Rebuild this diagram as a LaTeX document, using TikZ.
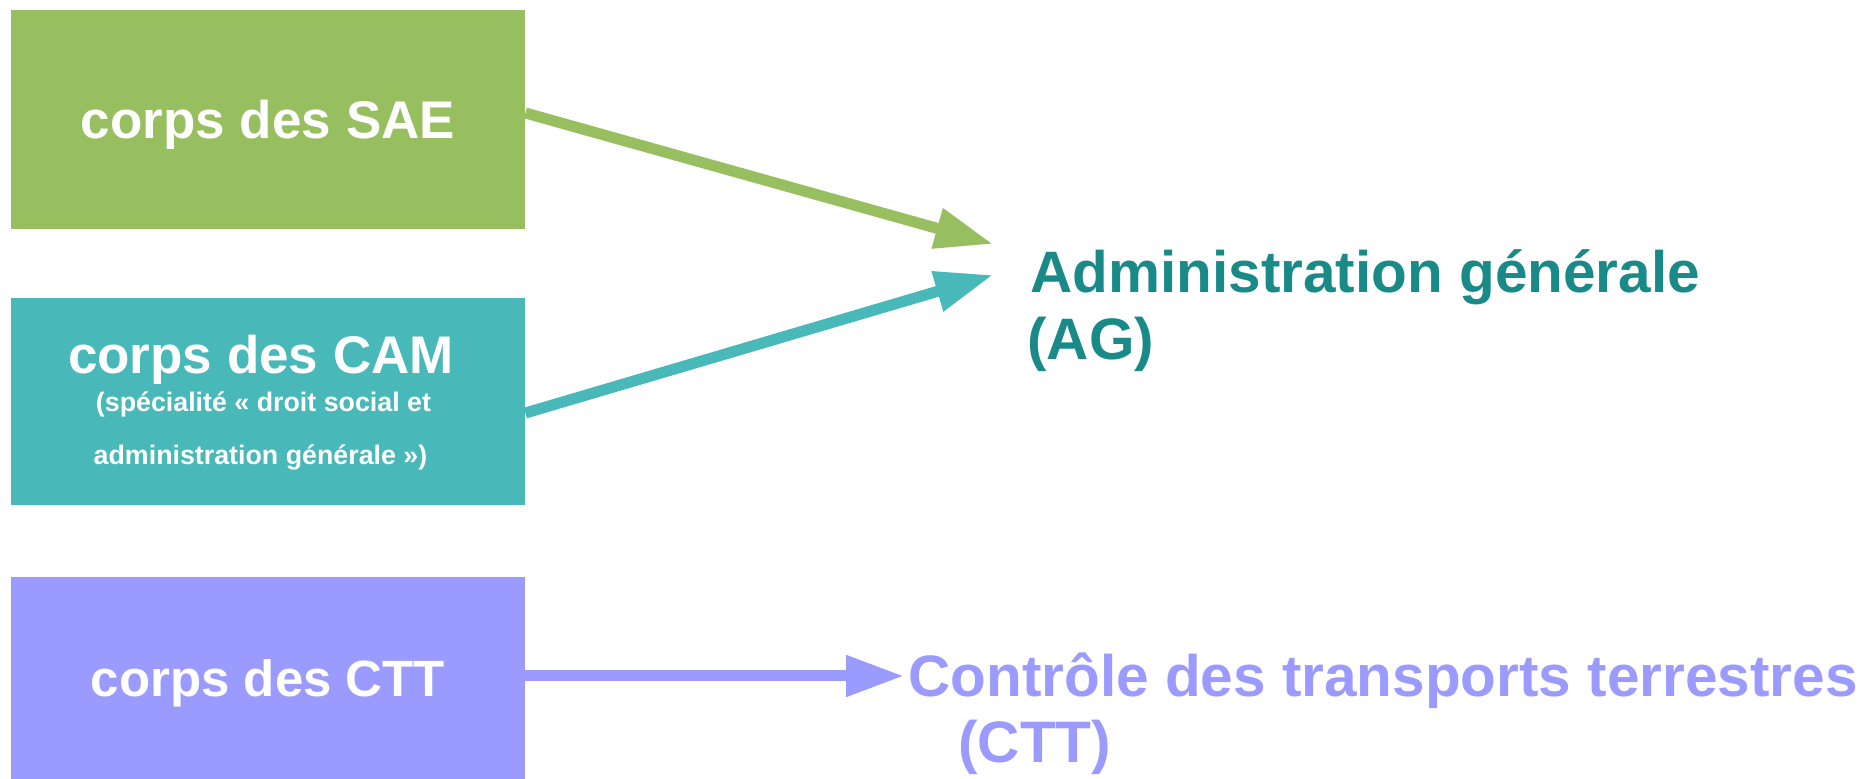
\documentclass[tikz,border=0pt]{standalone}
\usepackage{fontspec}
\setmainfont{Liberation Sans}
\usetikzlibrary{arrows.meta}
\definecolor{saegreen}{HTML}{97BF60}
\definecolor{camteal}{HTML}{48B8B8}
\definecolor{cttpurple}{HTML}{9B9BFF}
\definecolor{agteal}{HTML}{1A8A88}
\begin{document}
\begin{tikzpicture}[x=0.5pt,y=-0.5pt,
  corpsbox/.style={fill=#1, draw=none, minimum width=257pt, inner sep=0pt, text=white,
    font=\bfseries\fontsize{26.5}{30}\selectfont, text height=19pt, text depth=0pt},
  camtitle/.style={inner sep=0pt, text=white, font=\bfseries\fontsize{26.5}{30}\selectfont},
  camsub/.style={inner sep=0pt, text=white, font=\bfseries\fontsize{13.4}{15}\selectfont},
  biglabel/.style={inner sep=0pt, text=#1, font=\bfseries\fontsize{29.25}{33}\selectfont},
  arrowline/.style={draw=#1, line width=5.5pt, -{Triangle[length=29pt,width=19.5pt]}}
]
\useasboundingbox (0,0) rectangle (1865,779);

% boxes
\node[corpsbox=saegreen, minimum height=109.5pt] (sae) at (268,119.5) {corps des SAE};
\node[corpsbox=camteal, minimum height=103.5pt] (cam) at (268,401.5) {};
\node[corpsbox=cttpurple, minimum height=101pt, font=\bfseries\fontsize{25.5}{29}\selectfont, text height=18.3pt] (ctt) at (268,678) {corps des CTT};

% CAM box texts
\node[camtitle, anchor=base] (camt) at (261,374) {corps des CAM};
\node[camsub, anchor=base] (cams1) at (263.5,412) {(spécialité « droit social et};
\node[camsub, anchor=base] (cams2) at (260.5,465) {administration générale »)};

% targets
\node[biglabel=agteal, anchor=base west] (ag) at (1030,293) {Administration générale};
\node[biglabel=agteal, anchor=base west] (agabbr) at (1027,360) {(AG)};
\node[biglabel=cttpurple, anchor=base west] (cttl) at (908,697) {Contrôle des transports terrestres};
\node[biglabel=cttpurple, anchor=base west] (cttabbr) at (958,763) {(CTT)};

% arrow end points
\coordinate (saeend) at (993,244);
\coordinate (camend) at (993,275);
\coordinate (cttend) at (904,676);

\draw[arrowline=saegreen] ([yshift=3.25pt]sae.east) -- (saeend);
\draw[arrowline=camteal] ([yshift=-5.75pt]cam.east) -- (camend);
\draw[arrowline=cttpurple] ([yshift=1pt]ctt.east) -- (cttend);
\end{tikzpicture}
\end{document}
